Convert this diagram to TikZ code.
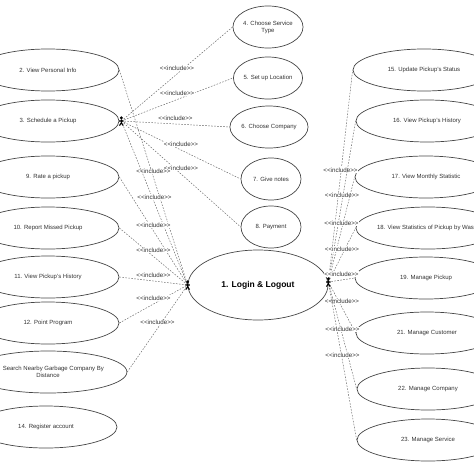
\documentclass[tikz,border=0pt]{standalone}
\usepackage{fontspec}
\setmainfont{Liberation Sans}
\usetikzlibrary{shapes.geometric}
\definecolor{ucline}{RGB}{70,70,70}
\definecolor{dashcol}{RGB}{110,110,110}
\definecolor{txtcol}{RGB}{50,50,50}
\tikzset{
  uc/.style={draw=ucline, ellipse, line width=0.7, minimum width=142, minimum height=42, inner sep=0,
    font=\fontsize{6}{7}\selectfont, text=txtcol, align=center},
  ucsmall/.style={uc, minimum width=60, minimum height=42},
  dep/.style={draw=dashcol, line width=0.5, dash pattern=on 1.6pt off 1.4pt},
  incl/.style={font=\fontsize{6.2}{7}\selectfont, text=txtcol, fill=white, inner sep=0.4, midway, yshift=6},
  actor/.pic={
    \fill (0,-3.2) circle (1.6);
    \draw[line width=1.1] (0,-1.6) -- (0,1.8) (-2.2,0) -- (2.2,0) (0,1.8) -- (-1.9,4.6) (0,1.8) -- (1.9,4.6);
  }
}
\begin{document}
\begin{tikzpicture}[x=1pt,y=-1pt]
\useasboundingbox (0,0) rectangle (474,474);
\clip (0,0) rectangle (474,474);

% left use cases
\node[uc] (uc2) at (48,70) {2. View Personal Info};
\node[uc] (uc3) at (48,121) {3. Schedule a Pickup};
\node[uc] (uc9) at (48,177) {9. Rate a pickup};
\node[uc] (uc10) at (48,228) {10. Report Missed Pickup};
\node[uc] (uc11) at (48,277) {11. View Pickup's History};
\node[uc] (uc12) at (48,323) {12. Point Program};
\node[uc] (uc13) at (48,372) {13. Search Nearby Garbage Company By\\Distance};
\node[uc] (uc14) at (46,427) {14. Register account};

% schedule sub use cases
\node[ucsmall] (uc4) at (268,27) {4. Choose Service\\Type};
\node[ucsmall] (uc5) at (268,78) {5. Set up Location};
\node[ucsmall] (uc6) at (269,127) {6. Choose Company};
\node[ucsmall] (uc7) at (271,179) {7. Give notes};
\node[ucsmall] (uc8) at (271,227) {8. Payment};

% login
\node[uc, minimum width=140, minimum height=70, font=\fontsize{8.5}{10}\selectfont\bfseries, text=black] (login) at (258,285) {1. Login \& Logout};

% right use cases
\node[uc] (uc15) at (424,70) {15. Update Pickup's Status};
\node[uc] (uc16) at (427,121) {16. View Pickup's History};
\node[uc] (uc17) at (426,177) {17. View Monthly Statistic};
\node[uc] (uc18) at (428,228) {18. View Statistics of Pickup by Waste};
\node[uc] (uc19) at (426,278) {19. Manage Pickup};
\node[uc] (uc21) at (427,333) {21. Manage Customer};
\node[uc] (uc22) at (428,389) {22. Manage Company};
\node[uc] (uc23) at (428,440) {23. Manage Service};

% actors
\coordinate (actS) at ([xshift=2]uc3.east);
\coordinate (actL) at (login.west);
\coordinate (actR) at ([yshift=3]login.east);

% include relations
\foreach \u in {4,5,6,7,8}
  \draw[dep] (actS) -- node[incl] {<{}<include>{}>} (uc\u.west);
\draw[dep] (uc2.east) -- node[incl] {<{}<include>{}>} (actL);
\draw[dep] (actS) -- node[incl] {<{}<include>{}>} (actL);
\foreach \u in {9,10,11,12,13}
  \draw[dep] (uc\u.east) -- node[incl] {<{}<include>{}>} (actL);
\foreach \u in {15,16,17,18,19,21,22,23}
  \draw[dep] (actR) -- node[incl] {<{}<include>{}>} (uc\u.west);

\pic at (actS) {actor};
\pic at (actL) {actor};
\pic at (actR) {actor};
\end{tikzpicture}
\end{document}
